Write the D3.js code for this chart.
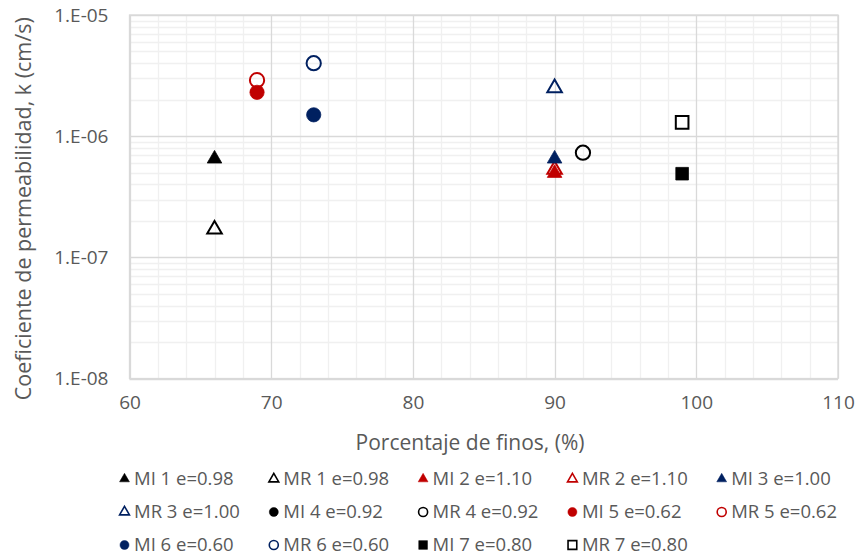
<!DOCTYPE html>
<html>
<head>
<meta charset="utf-8">
<script src="https://cdn.jsdelivr.net/npm/d3@7"></script>
<style>
  html, body { margin: 0; padding: 0; background: #fff; }
  svg { display: block; font-family: "Open Sans", "Noto Sans", sans-serif; }
</style>
</head>
<body>
<script>
// ---- data ----
const seriesNames = ["MI 1 e=0.98", "MR 1 e=0.98", "MI 2 e=1.10", "MR 2 e=1.10", "MI 3 e=1.00",
                     "MR 3 e=1.00", "MI 4 e=0.92", "MR 4 e=0.92", "MI 5 e=0.62", "MR 5 e=0.62",
                     "MI 6 e=0.60", "MR 6 e=0.60", "MI 7 e=0.80", "MR 7 e=0.80"];
const finesPct = [66, 66, 90, 90, 90, 90, null, 92, 69, 69, 73, 73, 99, 99];
const permK    = [6.5e-7, 1.7e-7, 4.95e-7, 5.3e-7, 6.5e-7, 2.5e-6, null, 7.3e-7, 2.3e-6, 2.9e-6, 1.5e-6, 4.0e-6, 4.9e-7, 1.3e-6];
const seriesColors = ["#000000", "#000000", "#c00000", "#c00000", "#002060",
                      "#002060", "#000000", "#000000", "#c00000", "#c00000",
                      "#002060", "#002060", "#000000", "#000000"];
const seriesShapes = ["triangle", "triangle", "triangle", "triangle", "triangle",
                      "triangle", "circle", "circle", "circle", "circle",
                      "circle", "circle", "square", "square"];
const seriesFilled = [true, false, true, false, true, false, true, false, true, false, true, false, true, false];
const xTicks = [60, 70, 80, 90, 100, 110];
const yTicks = [1e-8, 1e-7, 1e-6, 1e-5];
const yTickLabels = ["1.E-08", "1.E-07", "1.E-06", "1.E-05"];
const xTitle = "Porcentaje de finos, (%)";
const yTitle = "Coeficiente de permeabilidad, k (cm/s)";

// ---- layout ----
const W = 856, H = 557;
const plot = { left: 129.5, right: 838, top: 15, bottom: 378.5 };
const textColor = "#595959";

const svg = d3.select("body").append("svg").attr("width", W).attr("height", H);

const x = d3.scaleLinear().domain([60, 110]).range([plot.left, plot.right]);
const y = d3.scaleLog().domain([1e-8, 1e-5]).range([plot.bottom, plot.top]);

// minor grid
const minorX = d3.range(60, 110.001, 2).filter(v => v % 10 !== 0);
const minorY = [];
[1e-8, 1e-7, 1e-6].forEach(d => { for (let m = 2; m <= 9; m++) minorY.push(d * m); });

const grid = svg.append("g");
grid.selectAll("line.mx").data(minorX).join("line")
  .attr("x1", d => Math.round(x(d)) + 0.5).attr("x2", d => Math.round(x(d)) + 0.5)
  .attr("y1", plot.top).attr("y2", plot.bottom)
  .attr("stroke", "#f0f0f0").attr("stroke-width", 1.3);
grid.selectAll("line.my").data(minorY).join("line")
  .attr("y1", d => Math.round(y(d)) + 0.5).attr("y2", d => Math.round(y(d)) + 0.5)
  .attr("x1", plot.left).attr("x2", plot.right)
  .attr("stroke", "#f0f0f0").attr("stroke-width", 1.3);
// major grid
grid.selectAll("line.Mx").data(xTicks).join("line")
  .attr("x1", d => Math.round(x(d)) + 0.5).attr("x2", d => Math.round(x(d)) + 0.5)
  .attr("y1", plot.top).attr("y2", plot.bottom)
  .attr("stroke", "#d9d9d9").attr("stroke-width", 1.3);
grid.selectAll("line.My").data(yTicks).join("line")
  .attr("y1", d => Math.round(y(d)) + 0.5).attr("y2", d => Math.round(y(d)) + 0.5)
  .attr("x1", plot.left).attr("x2", plot.right)
  .attr("stroke", "#d9d9d9").attr("stroke-width", 1.3);
svg.append("rect")
  .attr("x", plot.left).attr("y", plot.top)
  .attr("width", plot.right - plot.left).attr("height", plot.bottom - plot.top)
  .attr("fill", "none").attr("stroke", "#d9d9d9").attr("stroke-width", 1.3);

// axes (labels only)
const xAxis = svg.append("g").attr("transform", `translate(0,${plot.bottom + 17})`)
  .call(d3.axisBottom(x).tickValues(xTicks).tickSize(0).tickPadding(0));
xAxis.select(".domain").remove();
xAxis.selectAll("text").attr("fill", textColor).attr("font-size", 19)
  .attr("font-family", "'Open Sans', sans-serif").attr("dy", "0.71em");

const yAxis = svg.append("g").attr("transform", `translate(${plot.left - 21},0)`)
  .call(d3.axisLeft(y).tickValues(yTicks).tickFormat((d, i) => yTickLabels[i]).tickSize(0).tickPadding(0));
yAxis.select(".domain").remove();
yAxis.selectAll("text").attr("fill", textColor).attr("font-size", 19)
  .attr("font-family", "'Open Sans', sans-serif");

// titles
svg.append("text").attr("x", 470).attr("y", 443).attr("dy", "0.35em")
  .attr("text-anchor", "middle").attr("fill", textColor).attr("font-size", 21)
  .text(xTitle);
svg.append("text").attr("transform", `translate(23,${(plot.top + plot.bottom) / 2 + 12}) rotate(-90)`)
  .attr("dy", "0.35em").attr("text-anchor", "middle").attr("fill", textColor).attr("font-size", 21.5)
  .text(yTitle);

// markers
function symbolFor(shape, big) {
  if (shape === "triangle") return d3.symbol(d3.symbolTriangle, big ? 92 : 42)();
  if (shape === "circle") return d3.symbol(d3.symbolCircle, big ? 160 : 64)();
  return d3.symbol(d3.symbolSquare, big ? 160 : 76)();
}
const pts = seriesNames.map((n, i) => ({ i, x: finesPct[i], k: permK[i] })).filter(d => d.x != null && d.k != null);
svg.append("g").selectAll("path").data(pts).join("path")
  .attr("transform", d => `translate(${x(d.x)},${y(d.k)})`)
  .attr("d", d => symbolFor(seriesShapes[d.i], true))
  .attr("fill", d => seriesFilled[d.i] ? seriesColors[d.i] : "none")
  .attr("stroke", d => seriesColors[d.i])
  .attr("stroke-width", d => seriesFilled[d.i] ? 0.75 : 2);

// legend
const legCols = 5, legX0 = 124.5, legColW = 149.3, legY0 = 479, legRowH = 33;
const leg = svg.append("g").selectAll("g").data(seriesNames).join("g")
  .attr("transform", (d, i) => `translate(${legX0 + (i % legCols) * legColW},${legY0 + Math.floor(i / legCols) * legRowH})`);
leg.append("path")
  .attr("d", (d, i) => symbolFor(seriesShapes[i], false))
  .attr("fill", (d, i) => seriesFilled[i] ? seriesColors[i] : "none")
  .attr("stroke", (d, i) => seriesColors[i])
  .attr("stroke-width", (d, i) => seriesFilled[i] ? 0.5 : 1.6);
leg.append("text").attr("x", 9.5).attr("dy", "0.35em")
  .attr("fill", textColor).attr("font-size", 18.5).text(d => d);
</script>
</body>
</html>
